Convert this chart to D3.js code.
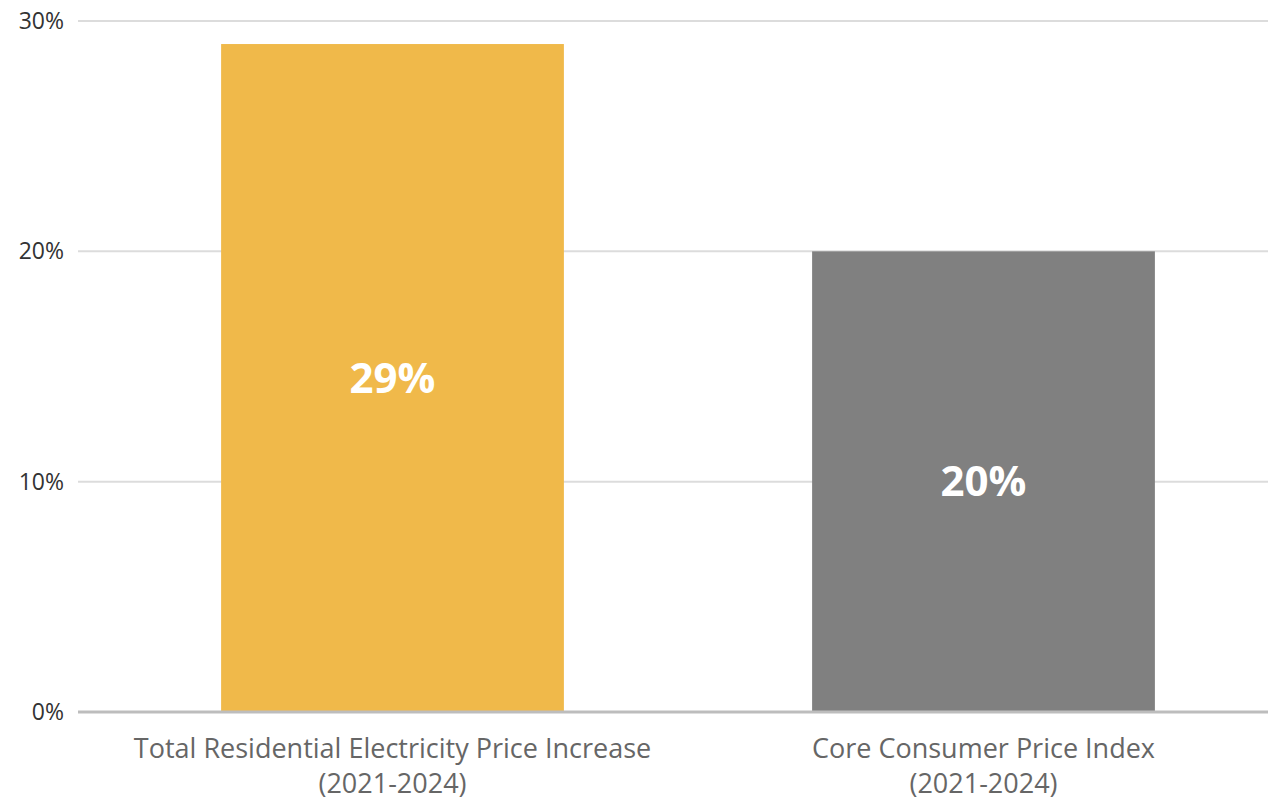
<!DOCTYPE html>
<html><head><meta charset="utf-8">
<script src="https://cdn.jsdelivr.net/npm/d3@7"></script>
<style>
html,body{margin:0;padding:0;background:#fff;}
svg{display:block;font-family:"Open Sans","Noto Sans",sans-serif;}
</style></head>
<body>
<svg id="chart" width="1268" height="802"></svg>
<script>
const categories = [
  ["Total Residential Electricity Price Increase", "(2021-2024)"],
  ["Core Consumer Price Index", "(2021-2024)"]
];
const values = [29, 20];
const valueLabels = ["29%", "20%"];
const colors = ["#F0B94A", "#808080"];
const tickValues = [0, 10, 20, 30];
const tickLabels = ["0%", "10%", "20%", "30%"];

const svg = d3.select("#chart");
const y = d3.scaleLinear().domain([0, 30]).range([712, 21]);
const x = d3.scaleBand().domain(d3.range(categories.length)).range([97, 1279]).paddingInner(0.42).paddingOuter(0.21);

// gridlines
svg.append("g").selectAll("line").data(tickValues.filter(d => d !== 0)).join("line")
  .attr("x1", 78).attr("x2", 1268)
  .attr("y1", d => y(d)).attr("y2", d => y(d))
  .attr("stroke", "#dcdcdc").attr("stroke-width", 2);

// bars
svg.append("g").selectAll("rect").data(values).join("rect")
  .attr("x", (d, i) => x(i)).attr("width", x.bandwidth())
  .attr("y", d => y(d)).attr("height", d => y(0) - y(d))
  .attr("fill", (d, i) => colors[i]);

// baseline
svg.append("line").attr("x1", 78).attr("x2", 1268)
  .attr("y1", y(0)).attr("y2", y(0))
  .attr("stroke", "#bdbdbd").attr("stroke-width", 3);

// y tick labels
svg.append("g").selectAll("text").data(tickValues).join("text")
  .attr("x", 64).attr("y", d => y(d)).attr("dy", "0.35em")
  .attr("text-anchor", "end").attr("font-size", 23).attr("fill", "#333")
  .text((d, i) => tickLabels[i]);

// value labels
svg.append("g").selectAll("text").data(values).join("text")
  .attr("x", (d, i) => x(i) + x.bandwidth() / 2)
  .attr("y", d => (y(d) + y(0)) / 2).attr("dy", "0.35em")
  .attr("text-anchor", "middle").attr("font-size", 42).attr("font-weight", "bold")
  .attr("fill", "#fff")
  .text((d, i) => valueLabels[i]);

// category labels
const cat = svg.append("g").selectAll("text").data(categories).join("text")
  .attr("text-anchor", "middle").attr("font-size", 27).attr("fill", "#666");
cat.each(function(lines, i) {
  const t = d3.select(this);
  lines.forEach((ln, j) => {
    t.append("tspan").attr("x", x(i) + x.bandwidth() / 2).attr("y", 758 + j * 35).text(ln);
  });
});
</script>
</body></html>
